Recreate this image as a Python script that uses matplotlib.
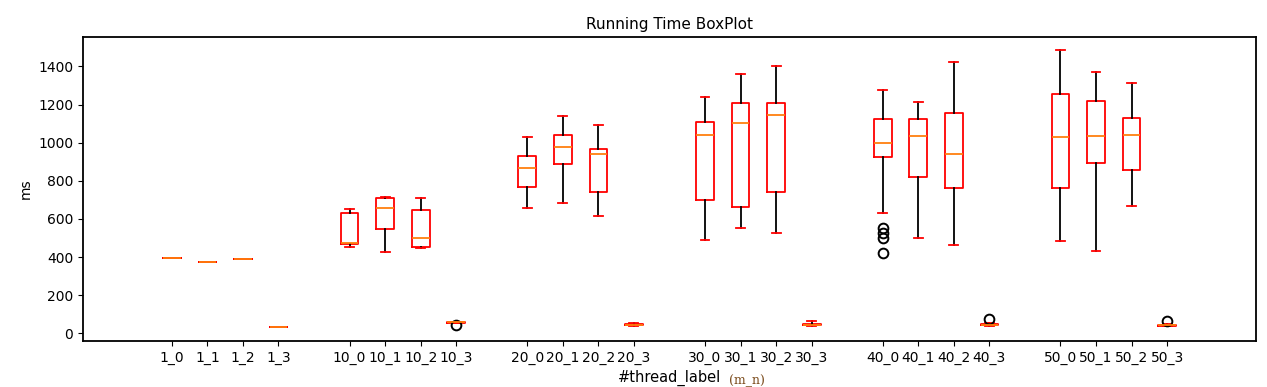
import matplotlib
matplotlib.use("Agg")
import matplotlib.pyplot as plt

# ---- data ----
labels = ["1_0", "1_1", "1_2", "1_3",
          "10_0", "10_1", "10_2", "10_3",
          "20_0", "20_1", "20_2", "20_3",
          "30_0", "30_1", "30_2", "30_3",
          "40_0", "40_1", "40_2", "40_3",
          "50_0", "50_1", "50_2", "50_3"]
positions = [1, 2, 3, 4, 6, 7, 8, 9, 11, 12, 13, 14,
             16, 17, 18, 19, 21, 22, 23, 24, 26, 27, 28, 29]

whislo = [393, 372, 388, 35,
          453, 425, 449, 54,
          659, 683, 615, 40,
          489, 550, 528, 40,
          629, 498, 463, 40,
          482, 432, 668, 40]
q1 = [393, 372, 388, 35,
      468, 547, 452, 56,
      769, 888, 741, 42,
      697, 661, 739, 42,
      923, 821, 764, 42,
      764, 893, 858, 41]
med = [393, 372, 388, 35,
       472, 659, 498, 58,
       865, 975, 940, 45,
       1042, 1101, 1145, 45,
       998, 1035, 939, 46,
       1028, 1035, 1042, 43]
q3 = [393, 372, 388, 35,
      630, 711, 645, 60,
      931, 1040, 966, 49,
      1108, 1209, 1209, 48,
      1122, 1122, 1154, 50,
      1255, 1217, 1129, 46]
whishi = [393, 372, 388, 35,
          651, 716, 709, 61,
          1028, 1140, 1092, 52,
          1239, 1363, 1403, 66,
          1276, 1215, 1421, 55,
          1489, 1370, 1313, 50]
fliers = [[], [], [], [],
          [], [], [], [42],
          [], [], [], [],
          [], [], [], [],
          [551, 525, 500, 420], [], [], [73],
          [], [], [], [66]]

stats = []
for i, lab in enumerate(labels):
    stats.append(dict(label=lab, med=med[i], q1=q1[i], q3=q3[i],
                      whislo=whislo[i], whishi=whishi[i], fliers=fliers[i]))

fig = plt.figure(figsize=(12.67, 3.87), dpi=100)
ax = fig.add_axes([0.0655, 0.119, 0.9258, 0.7855])

ax.bxp(stats, positions=positions, widths=0.5,
       boxprops=dict(color="red", linewidth=1.3),
       whiskerprops=dict(color="black", linewidth=1.3),
       capprops=dict(color="red", linewidth=1.3),
       medianprops=dict(color="#ff7f0e", linewidth=1.3),
       flierprops=dict(marker="o", markerfacecolor="none",
                       markeredgecolor="black", markersize=7,
                       markeredgewidth=1.4))

ax.set_xlim(-1.5, 31.5)
ax.set_ylim(-40, 1555)
ax.set_yticks([0, 200, 400, 600, 800, 1000, 1200, 1400])
ax.set_xticks(positions)
ax.set_xticklabels(labels)
ax.tick_params(axis="x", labelsize=10)
ax.tick_params(axis="y", labelsize=10)
for s in ax.spines.values():
    s.set_linewidth(1.3)

ax.set_title("Running Time BoxPlot", fontsize=11)
ax.set_ylabel("ms", fontsize=10)
ax.set_xlabel("#thread_label", fontsize=10.5, labelpad=4)
fig.text(0.575, 0.008, "(m_n)", fontsize=9, family="DejaVu Serif",
         color="#7a4a1a", ha="left", va="baseline")

fig.savefig("out.png", dpi=100)
